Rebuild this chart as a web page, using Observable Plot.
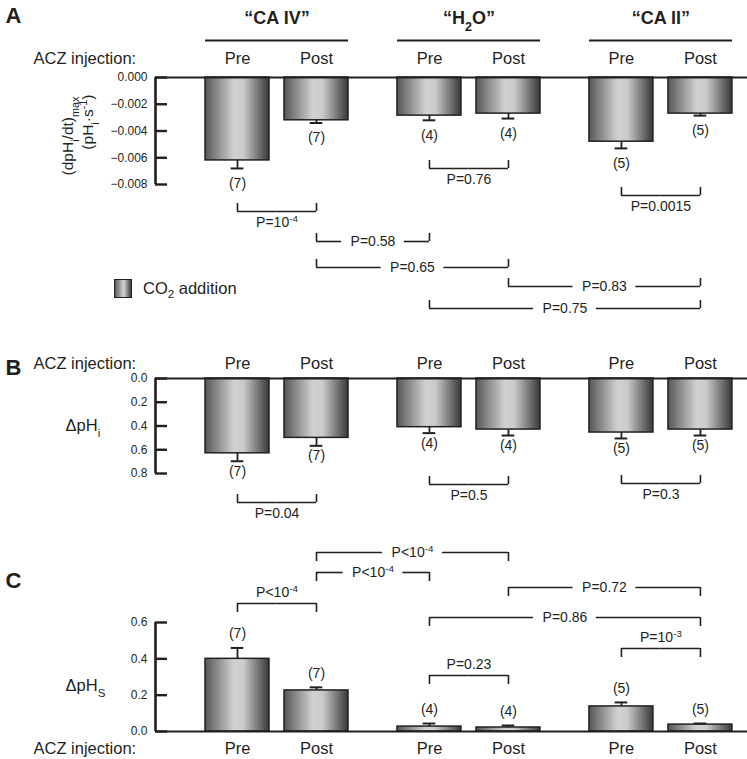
<!DOCTYPE html>
<html><head><meta charset="utf-8">
<script src="https://cdn.jsdelivr.net/npm/d3@7"></script>
<script src="https://cdn.jsdelivr.net/npm/@observablehq/plot@0.6"></script>
<style>
html,body{margin:0;padding:0;background:#fff;}
#fig{position:relative;width:747px;height:759px;font-family:"Liberation Sans",Arial,sans-serif;overflow:hidden;}
#fig svg{position:absolute;left:0;top:0;background:transparent !important;overflow:visible;}
#legend{position:absolute;left:114px;top:278px;display:flex;align-items:center;font-size:16.5px;color:#231f20;line-height:20px;}
#legend .sw{width:16px;height:17px;border:1.5px solid #231f20;background:linear-gradient(to right,#5a5a5a,#d6d6d6 55%,#3a3a3a);margin-right:11px;}
#legend sub{font-size:70%;line-height:0;}
</style></head><body>
<div id="fig">
<svg width="0" height="0"><defs><linearGradient id="barGrad" x1="0" x2="1" y1="0" y2="0">
<stop offset="0" stop-color="#565656"/><stop offset="0.45" stop-color="#d2d2d2"/><stop offset="0.6" stop-color="#cbcbcb"/><stop offset="1" stop-color="#383838"/>
</linearGradient></defs></svg>
<div id="legend"><div class="sw"></div><span>CO<sub>2</sub> addition</span></div>
</div>
<script>
// ---------- data ----------
const groups = ["“CA IV”", "“H_{2}O”", "“CA II”"];
const conditions = ["Pre", "Post"];
const nValues = [7, 7, 4, 4, 5, 5];
// Panel A: (dpHi/dt)max
const dpHdtMean = [-0.0062, -0.0032, -0.00285, -0.0027, -0.0048, -0.0027];
const dpHdtSE   = [0.0006, 0.0002, 0.00035, 0.00037, 0.0005, 0.00015];
// Panel B: ΔpHi
const dpHiMean = [0.63, 0.50, 0.41, 0.43, 0.455, 0.43];
const dpHiSE   = [0.067, 0.067, 0.05, 0.05, 0.05, 0.05];
// Panel C: ΔpHS
const dpHsMean = [0.40, 0.226, 0.027, 0.022, 0.138, 0.038];
const dpHsSE   = [0.06, 0.017, 0.017, 0.011, 0.022, 0.006];
// tick labels
const ticksA = [0, -0.002, -0.004, -0.006, -0.008];
const ticksB = [0, 0.2, 0.4, 0.6, 0.8];
const ticksC = [0, 0.2, 0.4, 0.6];
// comparisons: [bar a, bar b, label]
const compA = [[0,1,"P=10^{-4}"],[2,3,"P=0.76"],[4,5,"P=0.0015"],[1,2,"P=0.58"],[1,3,"P=0.65"],[3,5,"P=0.83"],[2,5,"P=0.75"]];
const compB = [[0,1,"P=0.04"],[2,3,"P=0.5"],[4,5,"P=0.3"]];
const compC = [[0,1,"P<10^{-4}"],[1,2,"P<10^{-4}"],[1,3,"P<10^{-4}"],[3,5,"P=0.72"],[2,5,"P=0.86"],[4,5,"P=10^{-3}"],[2,3,"P=0.23"]];

// ---------- layout ----------
const W = 747, H = 759, ML = 155;
const INK = "#231f20";
const GROUP_STEP = 2.43, BAR_HALF = 0.405, CAP_HALF = 0.08;
const X_DOMAIN = [-82/79, 510/79];
const PX_PER_UNIT = (W - ML) / (X_DOMAIN[1] - X_DOMAIN[0]);
const pos = i => Math.floor(i / 2) * GROUP_STEP + (i % 2);
const FONT = '"Liberation Sans", Arial, Helvetica, sans-serif';
const P_FONT = 14, GAP_PAD = 9;
const bracketRowsA = [211, 168, 195, 241, 267, 286, 308];
const bracketModeA = ["below","below","below","inline","inline","inline","inline"];
const bracketRowsB = [502, 484, 483];
const bracketModeB = ["below","below","below"];
const bracketRowsC = [603, 572, 552, 587, 617, 648, 675];
const bracketModeC = ["above","inline","inline","inline","inline","above","above"];
const PANEL_LETTER_Y = [15, 367, 580];
const CATEGORY_ROW_Y = [58, 363, 748];

// measure rich label width (px)
const ctx = document.createElement("canvas").getContext("2d");
function labelWidth(s, size) {
  let w = 0;
  s.split(/([\^_]\{[^}]*\})/).forEach(part => {
    if (!part) return;
    const m = part.match(/^[\^_]\{([^}]*)\}$/);
    const fs = m ? size * 0.7 : size;
    ctx.font = `${fs}px ${FONT}`;
    w += ctx.measureText(m ? m[1] : part).width;
  });
  return w;
}

function richify(root) {
  root.querySelectorAll("text").forEach(t => {
    const s = t.textContent;
    if (!/[\^_]\{/.test(s)) return;
    while (t.firstChild) t.removeChild(t.firstChild);
    const re = /([\^_])\{([^}]*)\}/g;
    let last = 0, m;
    while ((m = re.exec(s))) {
      if (m.index > last) t.appendChild(document.createTextNode(s.slice(last, m.index)));
      const ts = document.createElementNS("http://www.w3.org/2000/svg", "tspan");
      ts.setAttribute("baseline-shift", m[1] === "^" ? "super" : "sub");
      ts.setAttribute("font-size", "70%");
      ts.textContent = m[2];
      t.appendChild(ts);
      last = re.lastIndex;
    }
    if (last < s.length) t.appendChild(document.createTextNode(s.slice(last)));
  });
}

function panel(mean, se, ticks, domain, range, fmt, ndy) {
  const rows = mean.map((v, i) => ({pos: pos(i), v, end: v + Math.sign(v) * se[i], n: nValues[i]}));
  const yEnd = ticks[ticks.length - 1];
  return Plot.plot({
    width: W, height: H, marginLeft: ML, marginRight: 0, marginTop: 0, marginBottom: 0,
    style: {background: "transparent", fontFamily: FONT, fontSize: "12px", color: INK},
    x: {domain: X_DOMAIN, axis: null},
    y: {domain, range, ticks, tickFormat: d3.format(fmt), tickSize: 0, tickPadding: 8, label: null},
    marks: [
      Plot.rect(rows, {x1: d => d.pos - BAR_HALF, x2: d => d.pos + BAR_HALF, y1: 0, y2: "v", fill: "url(#barGrad)", stroke: INK, strokeWidth: 1.5}),
      Plot.ruleX(rows, {x: "pos", y1: "v", y2: "end", stroke: INK, strokeWidth: 1.8}),
      Plot.ruleY(rows, {y: "end", x1: d => d.pos - CAP_HALF, x2: d => d.pos + CAP_HALF, stroke: INK, strokeWidth: 2}),
      Plot.text(rows, {x: "pos", y: "end", dy: ndy, text: d => `(${d.n})`, fontSize: 14, fill: INK}),
      Plot.ruleY([0], {stroke: INK, strokeWidth: 2}),
      Plot.ruleX([X_DOMAIN[0]], {y1: 0, y2: yEnd, stroke: INK, strokeWidth: 2.6}),
      Plot.ruleY(ticks, {insetRight: W - ML - 12, stroke: INK, strokeWidth: 2.4})
    ]
  });
}

function bracketRows(comp, rows, modes, tick) {
  return comp.map(([a, b, label], k) => {
    const xm = (pos(a) + pos(b)) / 2;
    const half = modes[k] === "inline" ? (labelWidth(label, P_FONT) / 2 + GAP_PAD) / PX_PER_UNIT : 0;
    return {x1: pos(a), x2: pos(b), xm, gl: xm - half, gr: xm + half, y: rows[k], tick, label, mode: modes[k]};
  });
}
const brackets = [
  ...bracketRows(compA, bracketRowsA, bracketModeA, -8),
  ...bracketRows(compB, bracketRowsB, bracketModeB, -8),
  ...bracketRows(compC, bracketRowsC, bracketModeC, 9)
];
const catLabels = CATEGORY_ROW_Y.flatMap(y => nValues.map((_, i) => ({x: pos(i), y, label: conditions[i % 2]})));
const headers = groups.map((g, gi) => ({label: g, x1: pos(2 * gi) - BAR_HALF, x2: pos(2 * gi + 1) + BAR_HALF, xm: (pos(2 * gi) + pos(2 * gi + 1)) / 2}));

const overlay = Plot.plot({
  width: W, height: H, marginLeft: ML, marginRight: 0, marginTop: 0, marginBottom: 0,
  style: {background: "transparent", fontFamily: FONT, fontSize: "14px", color: INK},
  x: {domain: X_DOMAIN, axis: null},
  y: {domain: [0, H], range: [0, H], axis: null},
  marks: [
    Plot.text(["A", "B", "C"], {frameAnchor: "left", dx: -150, y: (d, i) => PANEL_LETTER_Y[i], text: d => d, textAnchor: "start", fontSize: 22, fontWeight: "bold", fill: INK}),
    Plot.text(CATEGORY_ROW_Y, {frameAnchor: "left", dx: -122, y: d => d, text: () => "ACZ injection:", textAnchor: "start", fontSize: 16.5, fill: INK}),
    Plot.text(catLabels, {x: "x", y: "y", text: "label", fontSize: 16.5, fill: INK}),
    Plot.text(headers, {x: "xm", y: () => 18, text: "label", fontSize: 18, fontWeight: "bold", fill: INK}),
    Plot.ruleY(headers, {x1: "x1", x2: "x2", y: () => 40, stroke: INK, strokeWidth: 2}),
    Plot.text(["(dpH_{i}/dt)_{max}"], {frameAnchor: "left", dx: -87, y: () => 96, text: d => d, rotate: -90, textAnchor: "end", fontSize: 15.5, fill: INK}),
    Plot.text(["(pH_{i}·s^{-1})"], {frameAnchor: "left", dx: -67, y: () => 94, text: d => d, rotate: -90, textAnchor: "end", fontSize: 15.5, fill: INK}),
    Plot.text(["ΔpH_{i}", "ΔpH_{S}"], {frameAnchor: "left", dx: -90, y: (d, i) => [425, 685][i], text: d => d, textAnchor: "start", fontSize: 16.5, fill: INK}),
    // bracket horizontals (split around inline labels)
    Plot.ruleY(brackets, {x1: "x1", x2: "gl", y: "y", stroke: INK, strokeWidth: 1.6}),
    Plot.ruleY(brackets, {x1: "gr", x2: "x2", y: "y", stroke: INK, strokeWidth: 1.6}),
    Plot.ruleX(brackets, {x: "x1", y1: "y", y2: d => d.y + d.tick, stroke: INK, strokeWidth: 1.6}),
    Plot.ruleX(brackets, {x: "x2", y1: "y", y2: d => d.y + d.tick, stroke: INK, strokeWidth: 1.6}),
    Plot.text(brackets.filter(d => d.mode === "inline"), {x: "xm", y: "y", text: "label", fontSize: P_FONT, fill: INK}),
    Plot.text(brackets.filter(d => d.mode !== "inline"), {x: "xm", y: d => d.y + (d.mode === "below" ? 11 : -11), text: "label", fontSize: P_FONT, fill: INK})
  ]
});

const fig = document.getElementById("fig");
const panels = [
  panel(dpHdtMean, dpHdtSE, ticksA, [-0.008, 0], [184, 77], ".3f", 15),
  panel(dpHiMean, dpHiSE, ticksB, [0, 0.8], [378, 473], ".1f", 10),
  panel(dpHsMean, dpHsSE, ticksC, [0, 0.6], [731, 622], ".1f", -14)
];
for (const s of [...panels, overlay]) {
  richify(s);
  fig.insertBefore(s, document.getElementById("legend"));
}
</script>
</body></html>
